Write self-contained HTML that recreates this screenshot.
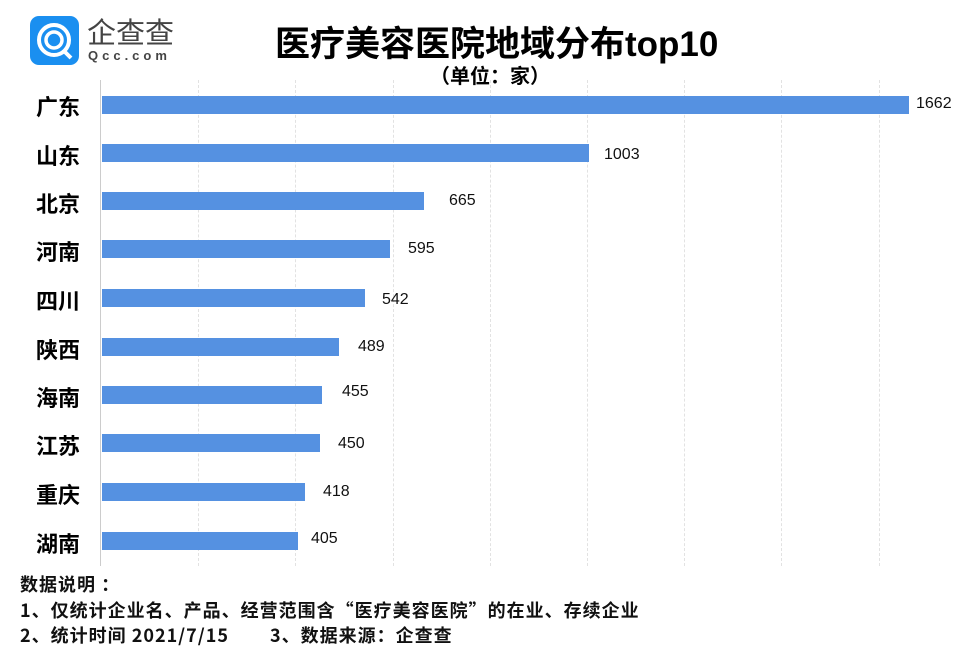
<!DOCTYPE html><html><head><meta charset="utf-8"><style>
body{margin:0;width:975px;height:657px;background:#fff;overflow:hidden;position:relative;font-family:"Liberation Sans","Noto Sans CJK SC",sans-serif}
.a{position:absolute;white-space:nowrap}
.lab{font-size:22px;font-weight:bold;color:#000;left:36px}
.v{font-size:16px;color:#111}
.bar{position:absolute;left:102px;height:18px;background:#5591e1}
.g{position:absolute;top:80px;height:486px;border-left:1px dashed #e2e2e2}
.n{font-size:18px;font-weight:bold;color:#111;left:20px;font-family:"Noto Sans CJK SC",sans-serif;letter-spacing:1px}
</style></head><body>
<div class="a" style="left:30px;top:16px;width:49px;height:49px;border-radius:9px;background:#1a8ff0"></div>
<svg class="a" style="left:30px;top:16px" width="49" height="49"><circle cx="24" cy="24" r="15" fill="none" stroke="#fff" stroke-width="4"/><circle cx="24" cy="24" r="8" fill="none" stroke="#fff" stroke-width="3.5"/><line x1="33" y1="34" x2="41" y2="42" stroke="#fff" stroke-width="4"/><circle cx="24" cy="24" r="3" fill="#1a8ff0"/></svg>
<div class="a" style="left:87px;top:10px;font-size:29px;color:#444;letter-spacing:0px">企查查</div>
<div class="a" style="left:88px;top:48px;font-size:13px;color:#444;letter-spacing:4px;font-weight:bold">Qcc.com</div>
<div class="a" style="left:275px;top:16px;font-size:35px;font-weight:bold;color:#000">医疗美容医院地域分布top10</div>
<div class="a" style="left:430px;top:60px;font-size:20px;font-weight:bold;color:#000">（单位：家）</div>
<div class="a" style="left:100px;top:80px;height:486px;border-left:1px solid #ccc"></div>
<div class="g" style="left:198px"></div><div class="g" style="left:295px"></div><div class="g" style="left:393px"></div><div class="g" style="left:490px"></div><div class="g" style="left:587px"></div><div class="g" style="left:684px"></div><div class="g" style="left:781px"></div><div class="g" style="left:879px"></div>
<div class="bar" style="top:96px;width:807px"></div><div class="a lab" style="top:90px">广东</div><div class="a v" style="left:916px;top:95px">1662</div>
<div class="bar" style="top:144px;width:487px"></div><div class="a lab" style="top:139px">山东</div><div class="a v" style="left:604px;top:146px">1003</div>
<div class="bar" style="top:192px;width:322px"></div><div class="a lab" style="top:187px">北京</div><div class="a v" style="left:449px;top:192px">665</div>
<div class="bar" style="top:240px;width:288px"></div><div class="a lab" style="top:235px">河南</div><div class="a v" style="left:408px;top:240px">595</div>
<div class="bar" style="top:289px;width:263px"></div><div class="a lab" style="top:284px">四川</div><div class="a v" style="left:382px;top:291px">542</div>
<div class="bar" style="top:338px;width:237px"></div><div class="a lab" style="top:333px">陕西</div><div class="a v" style="left:358px;top:338px">489</div>
<div class="bar" style="top:386px;width:220px"></div><div class="a lab" style="top:381px">海南</div><div class="a v" style="left:342px;top:383px">455</div>
<div class="bar" style="top:434px;width:218px"></div><div class="a lab" style="top:429px">江苏</div><div class="a v" style="left:338px;top:435px">450</div>
<div class="bar" style="top:483px;width:203px"></div><div class="a lab" style="top:478px">重庆</div><div class="a v" style="left:323px;top:483px">418</div>
<div class="bar" style="top:532px;width:196px"></div><div class="a lab" style="top:527px">湖南</div><div class="a v" style="left:311px;top:530px">405</div>
<div class="a n" style="top:571px">数据说明 ：</div>
<div class="a n" style="top:597px">1、仅统计企业名、产品、经营范围含“医疗美容医院”的在业、存续企业</div>
<div class="a n" style="top:622px">2、统计时间 2021/7/15</div>
<div class="a n" style="top:622px;left:270px">3、数据来源：企查查</div>
</body></html>
